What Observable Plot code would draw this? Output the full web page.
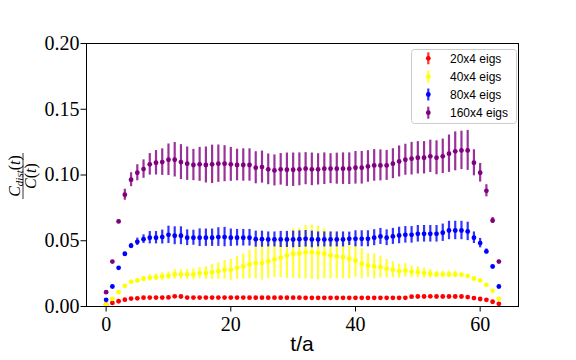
<!DOCTYPE html>
<html><head><meta charset="utf-8">
<script src="https://cdn.jsdelivr.net/npm/d3@7"></script>
<script src="https://cdn.jsdelivr.net/npm/@observablehq/plot@0.6"></script>
<style>body{margin:0;background:#fff}</style>
</head><body><div id="chart"></div>
<script>
// time slices t/a = 0..63
const tValues = [0,1,2,3,4,5,6,7,8,9,10,11,12,13,14,15,16,17,18,19,20,21,22,23,24,25,26,27,28,29,30,31,32,33,34,35,36,37,38,39,40,41,42,43,44,45,46,47,48,49,50,51,52,53,54,55,56,57,58,59,60,61,62,63];

const seriesNames = ["20x4 eigs", "40x4 eigs", "80x4 eigs", "160x4 eigs"];
const seriesColors = ["#ff0000", "#ffff00", "#0000ff", "#800080"];

const red = [0.0015,0.0027,0.0040,0.0052,0.0060,0.0062,0.0067,0.0068,0.0068,0.0068,
  0.0069,0.0077,0.0076,0.0068,0.0068,0.0068,0.0068,0.0068,0.0068,0.0068,
  0.0068,0.0068,0.0068,0.0067,0.0067,0.0067,0.0067,0.0067,0.0067,0.0067,
  0.0067,0.0067,0.0066,0.0066,0.0066,0.0066,0.0066,0.0066,0.0066,0.0066,
  0.0066,0.0066,0.0066,0.0066,0.0066,0.0066,0.0066,0.0066,0.0066,0.0075,
  0.0076,0.0076,0.0077,0.0076,0.0076,0.0076,0.0076,0.0076,0.0072,0.0064,
  0.0057,0.0051,0.0036,0.0020];
const redErr = [0.0002,0.0002,0.0002,0.0003,0.0003,0.0003,0.0003,0.0003,0.0003,0.0003,
  0.0003,0.0003,0.0003,0.0003,0.0003,0.0003,0.0003,0.0003,0.0003,0.0003,
  0.0003,0.0003,0.0003,0.0003,0.0003,0.0003,0.0003,0.0003,0.0003,0.0003,
  0.0003,0.0003,0.0003,0.0003,0.0003,0.0003,0.0003,0.0003,0.0003,0.0003,
  0.0003,0.0003,0.0003,0.0003,0.0003,0.0003,0.0003,0.0003,0.0003,0.0003,
  0.0003,0.0003,0.0003,0.0003,0.0003,0.0003,0.0003,0.0003,0.0003,0.0003,
  0.0003,0.0002,0.0002,0.0002];

const yellow = [0.0015,0.0058,0.0109,0.0157,0.0188,0.0198,0.0211,0.0218,0.0223,0.0228,
  0.0233,0.0244,0.0244,0.0244,0.0244,0.0254,0.0254,0.0261,0.0269,0.0279,
  0.0279,0.0294,0.0304,0.0320,0.0330,0.0330,0.0345,0.0358,0.0370,0.0388,
  0.0401,0.0403,0.0413,0.0413,0.0406,0.0401,0.0388,0.0381,0.0375,0.0363,
  0.0350,0.0325,0.0312,0.0304,0.0299,0.0287,0.0279,0.0269,0.0274,0.0264,
  0.0261,0.0254,0.0249,0.0244,0.0244,0.0244,0.0244,0.0241,0.0231,0.0213,
  0.0198,0.0165,0.0119,0.0058];
const yellowErr = [0.0005,0.0006,0.0008,0.0010,0.0012,0.0015,0.0018,0.0024,0.0025,0.0028,
  0.0029,0.0036,0.0036,0.0038,0.0042,0.0043,0.0048,0.0057,0.0063,0.0071,
  0.0080,0.0086,0.0096,0.0108,0.0120,0.0131,0.0131,0.0137,0.0150,0.0175,
  0.0188,0.0193,0.0203,0.0207,0.0203,0.0190,0.0178,0.0170,0.0165,0.0152,
  0.0127,0.0114,0.0089,0.0095,0.0082,0.0070,0.0061,0.0053,0.0051,0.0044,
  0.0041,0.0038,0.0032,0.0025,0.0025,0.0025,0.0025,0.0019,0.0015,0.0012,
  0.0010,0.0008,0.0006,0.0005];

const blue = [0.0051,0.0152,0.0294,0.0401,0.0462,0.0492,0.0512,0.0523,0.0523,0.0528,
  0.0545,0.0538,0.0538,0.0523,0.0523,0.0523,0.0523,0.0523,0.0528,0.0528,
  0.0523,0.0523,0.0523,0.0523,0.0512,0.0512,0.0510,0.0510,0.0510,0.0510,
  0.0510,0.0512,0.0515,0.0510,0.0510,0.0510,0.0510,0.0510,0.0510,0.0515,
  0.0515,0.0515,0.0515,0.0523,0.0533,0.0523,0.0533,0.0540,0.0545,0.0545,
  0.0553,0.0553,0.0553,0.0553,0.0561,0.0578,0.0578,0.0578,0.0571,0.0523,
  0.0482,0.0419,0.0304,0.0152];
const blueErr = [0.0003,0.0005,0.0007,0.0010,0.0018,0.0028,0.0033,0.0047,0.0047,0.0053,
  0.0066,0.0068,0.0068,0.0060,0.0057,0.0067,0.0066,0.0066,0.0071,0.0074,
  0.0066,0.0063,0.0063,0.0063,0.0061,0.0061,0.0057,0.0057,0.0061,0.0061,
  0.0063,0.0063,0.0063,0.0063,0.0057,0.0057,0.0057,0.0057,0.0057,0.0051,
  0.0061,0.0061,0.0061,0.0061,0.0061,0.0060,0.0061,0.0063,0.0063,0.0063,
  0.0063,0.0063,0.0063,0.0063,0.0066,0.0070,0.0070,0.0070,0.0070,0.0044,
  0.0036,0.0019,0.0008,0.0005];

const purple = [0.0109,0.0342,0.0647,0.0850,0.0964,0.1017,0.1045,0.1081,0.1093,0.1098,
  0.1116,0.1116,0.1098,0.1086,0.1076,0.1081,0.1076,0.1081,0.1086,0.1086,
  0.1081,0.1076,0.1076,0.1076,0.1055,0.1060,0.1043,0.1035,0.1043,0.1040,
  0.1040,0.1043,0.1048,0.1043,0.1043,0.1048,0.1048,0.1048,0.1048,0.1048,
  0.1055,0.1055,0.1065,0.1073,0.1073,0.1073,0.1086,0.1103,0.1116,0.1124,
  0.1131,0.1131,0.1142,0.1131,0.1142,0.1162,0.1180,0.1187,0.1187,0.1093,
  0.1017,0.0880,0.0654,0.0342];
const purpleErr = [0.0005,0.0008,0.0012,0.0042,0.0053,0.0061,0.0070,0.0082,0.0093,0.0101,
  0.0120,0.0131,0.0133,0.0127,0.0119,0.0129,0.0137,0.0146,0.0142,0.0137,
  0.0129,0.0120,0.0123,0.0123,0.0122,0.0122,0.0117,0.0118,0.0120,0.0127,
  0.0127,0.0125,0.0122,0.0124,0.0119,0.0120,0.0114,0.0118,0.0120,0.0120,
  0.0124,0.0124,0.0120,0.0120,0.0118,0.0114,0.0114,0.0118,0.0118,0.0124,
  0.0123,0.0123,0.0123,0.0129,0.0131,0.0142,0.0148,0.0146,0.0152,0.0099,
  0.0071,0.0046,0.0023,0.0010];

const xTicks = [0, 20, 40, 60];
const yTicks = [0, 0.05, 0.10, 0.15, 0.20];

const allValues = [red, yellow, blue, purple];
const allErrs = [redErr, yellowErr, blueErr, purpleErr];

const seriesData = seriesNames.map((name, i) =>
  tValues.map((t, j) => ({series: name, t, y: allValues[i][j], err: allErrs[i][j]})));

const marks = [];
seriesData.forEach((rows, i) => {
  marks.push(Plot.ruleX(rows, {x: "t", y1: d => d.y - d.err, y2: d => d.y + d.err,
    stroke: seriesColors[i], strokeWidth: 2.2, strokeOpacity: 0.8}));
  marks.push(Plot.dot(rows, {x: "t", y: "y", r: 2.4, fill: seriesColors[i], stroke: "none"}));
});

const SERIF = "'Liberation Serif', 'DejaVu Serif', serif";
const SANS = "'Liberation Sans', Arial, sans-serif";

const chart = Plot.plot({
  width: 576, height: 360,
  marginLeft: 86, marginRight: 58, marginTop: 43, marginBottom: 54,
  style: {background: "white", color: "black", overflow: "visible"},
  x: {domain: [-3.15, 66.15]},
  y: {domain: [0, 0.2]},
  marks: [
    ...marks,
    Plot.frame({stroke: "black", strokeWidth: 1}),
    Plot.axisX({ticks: xTicks, tickSize: 5.5, tickPadding: 5, fontSize: 20,
      label: null, tickFormat: d => String(d)}),
    Plot.axisY({ticks: yTicks, tickSize: 5.5, tickPadding: 1.5, fontSize: 20,
      label: null, tickFormat: d3.format(".2f")})
  ]
});

const svg = d3.select(chart);
// serif (LaTeX-like) tick labels
svg.selectAll("text").style("font-family", SERIF).style("font-size", "20px");

// y label: C_dist(t) / C(t)
const yl = svg.append("g").attr("transform", "translate(23,176) rotate(-90)")
  .style("font-family", SERIF).style("font-size", "16px").attr("fill", "black");
const num = yl.append("text").attr("text-anchor", "middle").attr("y", -3);
num.append("tspan").attr("font-style", "italic").text("C");
num.append("tspan").attr("font-style", "italic").style("font-size", "11px").attr("dy", 3).text("dist");
num.append("tspan").attr("dy", -3).text("(");
num.append("tspan").attr("font-style", "italic").text("t");
num.append("tspan").text(")");
yl.append("line").attr("x1", -23).attr("x2", 23).attr("y1", 0).attr("y2", 0)
  .attr("stroke", "black").attr("stroke-width", 0.8);
const den = yl.append("text").attr("text-anchor", "middle").attr("y", 13);
den.append("tspan").attr("font-style", "italic").text("C");
den.append("tspan").text("(");
den.append("tspan").attr("font-style", "italic").text("t");
den.append("tspan").text(")");

// x label
svg.append("text").attr("x", 302).attr("y", 351).attr("text-anchor", "middle")
  .style("font-family", SANS).style("font-size", "21px").attr("fill", "black").text("t/a");

// legend
const lg = svg.append("g");
lg.append("rect").attr("x", 411.5).attr("y", 49.5).attr("width", 105).attr("height", 74)
  .attr("rx", 3).attr("fill", "white").attr("fill-opacity", 0.8).attr("stroke", "#cccccc");
const legendY = [58.3, 76.7, 94.5, 112.7];
seriesNames.forEach((name, i) => {
  const y = legendY[i];
  lg.append("line").attr("x1", 428.3).attr("x2", 428.3).attr("y1", y - 6).attr("y2", y + 6)
    .attr("stroke", seriesColors[i]).attr("stroke-width", 2.2).attr("stroke-opacity", 0.8);
  lg.append("circle").attr("cx", 428.3).attr("cy", y).attr("r", 2.4).attr("fill", seriesColors[i]);
  lg.append("text").attr("x", 450).attr("y", y + 4.3).attr("text-anchor", "start")
    .style("font-family", SANS).style("font-size", "12px").attr("fill", "black").text(name);
});

document.getElementById("chart").appendChild(chart);
</script>
</body></html>
